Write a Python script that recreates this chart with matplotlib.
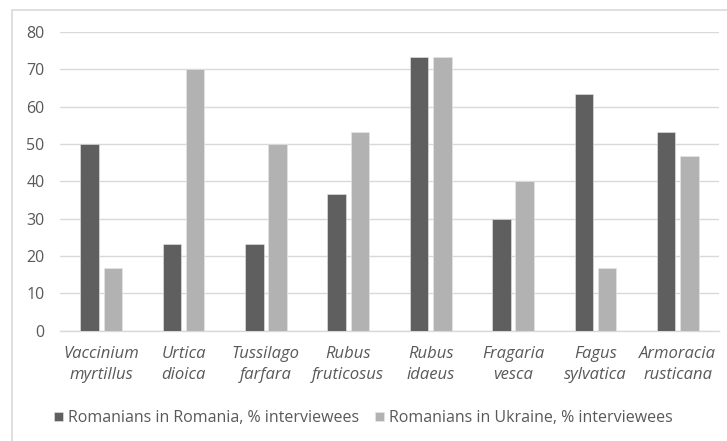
import numpy as np
import matplotlib.pyplot as plt
from matplotlib.patches import Rectangle

plt.rcParams['font.family'] = ['Open Sans', 'DejaVu Sans']

species = ["Vaccinium\nmyrtillus", "Urtica\ndioica", "Tussilago\nfarfara", "Rubus\nfruticosus",
           "Rubus\nidaeus", "Fragaria\nvesca", "Fagus\nsylvatica", "Armoracia\nrusticana"]
romania = [50, 23.3, 23.3, 36.7, 73.3, 30, 63.3, 53.3]
ukraine = [16.7, 70, 50, 53.3, 73.3, 40, 16.7, 46.7]
series_names = ["Romanians in Romania, % interviewees", "Romanians in Ukraine, % interviewees"]
yticks = [0, 10, 20, 30, 40, 50, 60, 70, 80]

TEXT = "#595959"
GRID = "#d9d9d9"

fig = plt.figure(figsize=(7.27, 4.41), dpi=100)
# light frame around the chart area
fig.patches.append(Rectangle((12 / 727, -0.05), 1.0, 1 - 10 / 441 + 0.05,
                             transform=fig.transFigure, fill=False,
                             edgecolor=GRID, linewidth=1.2))

ax = fig.add_axes([60 / 727, 1 - 330.7 / 441, 659 / 727, 298.7 / 441])
x = np.arange(len(species))
w = 0.225
off = 0.141
ax.bar(x - off, romania, w, color="#5f5f5f", edgecolor="#e8e8e8", linewidth=0.4,
       label=series_names[0], zorder=3)
ax.bar(x + off, ukraine, w, color="#b2b2b2", edgecolor="#e8e8e8", linewidth=0.4,
       label=series_names[1], zorder=3)

ax.set_xlim(-0.5, len(species) - 0.5)
ax.set_ylim(0, 80)
ax.set_yticks(yticks)
ax.set_xticks(x)
ax.set_xticklabels(species, fontstyle="italic", fontsize=12, color=TEXT, linespacing=1.4)
ax.tick_params(axis="y", length=0, pad=11, labelsize=11.5, labelcolor=TEXT)
ax.tick_params(axis="x", length=0, pad=11)
ax.grid(axis="y", color=GRID, linewidth=1, zorder=0)
for s in ["top", "right", "left"]:
    ax.spines[s].set_visible(False)
ax.spines["bottom"].set_color(GRID)
ax.spines["bottom"].set_linewidth(1)

leg = fig.legend(loc="center", bbox_to_anchor=(0.5, 1 - 418 / 441), ncol=2, frameon=False,
                 fontsize=11.5, handlelength=0.55, handleheight=0.55, handletextpad=0.3,
                 columnspacing=1.0, labelcolor=TEXT)

fig.savefig("out.png", dpi=100)
